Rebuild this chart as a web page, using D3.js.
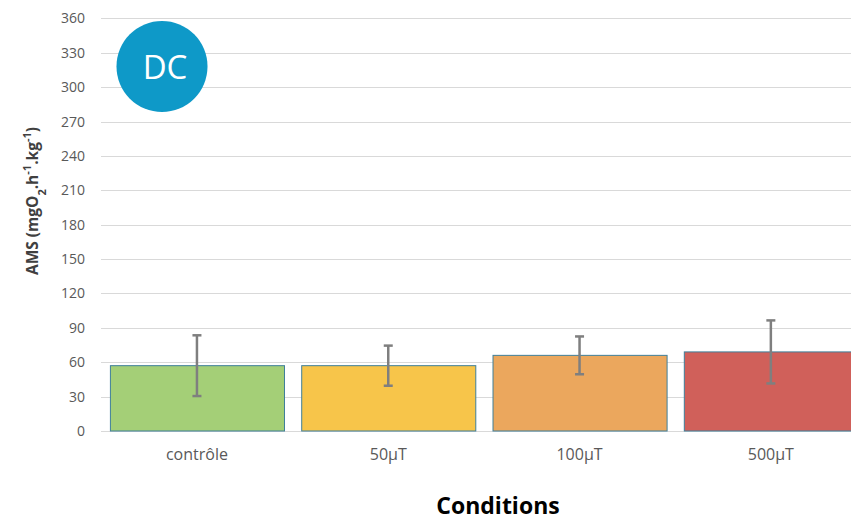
<!DOCTYPE html>
<html>
<head>
<meta charset="utf-8">
<script src="https://cdn.jsdelivr.net/npm/d3@7"></script>
<style>
  html, body { margin: 0; padding: 0; background: #fff; }
  svg { display: block; }
  text { font-family: "Open Sans", "Noto Sans", "Liberation Sans", sans-serif; }
</style>
</head>
<body>
<script>
// AMS per exposure condition
const categories = ["contrôle", "50µT", "100µT", "500µT"];
const amsMean = [57, 57, 66, 69];
const amsError = [26.5, 17.5, 16.5, 27.5];
const barColors = ["#a4cf77", "#f7c54a", "#eba75d", "#d0605a"];
const yTicks = [0, 30, 60, 90, 120, 150, 180, 210, 240, 270, 300, 330, 360];

const width = 851, height = 522;
const svg = d3.select("body").append("svg")
  .attr("width", width).attr("height", height);

// plot area extends a little beyond the right edge of the view
const x = d3.scaleBand()
  .domain(categories)
  .range([101.3, 866.5])
  .paddingInner(0.09)
  .paddingOuter(0.045);

const y = d3.scaleLinear().domain([0, 360]).range([431, 18.4]);

// horizontal gridlines
svg.append("g")
  .selectAll("line")
  .data(yTicks)
  .join("line")
  .attr("x1", 101).attr("x2", width)
  .attr("y1", d => Math.round(y(d)) + 0.5)
  .attr("y2", d => Math.round(y(d)) + 0.5)
  .attr("stroke", "#d9d9d9")
  .attr("stroke-width", 1);

// y axis labels
const yAxis = d3.axisLeft(y).tickValues(yTicks).tickSize(0).tickPadding(0);
const gy = svg.append("g").attr("transform", "translate(85,0)").call(yAxis);
gy.select(".domain").remove();
gy.selectAll("text")
  .attr("fill", "#595959")
  .style("font-size", "14px")
  .style("font-family", "'Open Sans', sans-serif");

// bars
svg.append("g")
  .selectAll("rect")
  .data(categories)
  .join("rect")
  .attr("x", d => x(d) + 0.5)
  .attr("y", (d, i) => y(amsMean[i]))
  .attr("width", x.bandwidth())
  .attr("height", (d, i) => y(0) - y(amsMean[i]))
  .attr("fill", (d, i) => barColors[i])
  .attr("stroke", "#3f7f9a")
  .attr("stroke-width", 1);

// error bars
const eb = svg.append("g").attr("stroke", "#7f7f7f").attr("stroke-width", 2.5);
categories.forEach((c, i) => {
  const cx = x(c) + x.bandwidth() / 2;
  const top = y(amsMean[i] + amsError[i]);
  const bot = y(amsMean[i] - amsError[i]);
  eb.append("line").attr("x1", cx).attr("x2", cx).attr("y1", top).attr("y2", bot);
  eb.append("line").attr("x1", cx - 4.5).attr("x2", cx + 4.5).attr("y1", top).attr("y2", top);
  eb.append("line").attr("x1", cx - 4.5).attr("x2", cx + 4.5).attr("y1", bot).attr("y2", bot);
});

// x axis labels
const xAxis = d3.axisBottom(x).tickSize(0).tickPadding(0);
const gx = svg.append("g").attr("transform", "translate(0,449)").call(xAxis);
gx.select(".domain").remove();
gx.selectAll("text")
  .attr("fill", "#595959")
  .style("font-size", "16px")
  .style("font-family", "'Open Sans', sans-serif");

// axis titles
svg.append("text")
  .attr("x", 498).attr("y", 514)
  .attr("text-anchor", "middle")
  .attr("fill", "#000")
  .style("font-size", "23px")
  .style("font-weight", "bold")
  .text("Conditions");

const yt = svg.append("text")
  .attr("transform", "translate(38,201) rotate(-90)")
  .attr("text-anchor", "middle")
  .attr("fill", "#404040")
  .style("font-size", "15.5px")
  .style("font-weight", "bold");
yt.append("tspan").text("AMS (mgO");
yt.append("tspan").attr("baseline-shift", "sub").style("font-size", "11px").text("2");
yt.append("tspan").text(".h");
yt.append("tspan").attr("baseline-shift", "super").style("font-size", "11px").text("-1");
yt.append("tspan").text(".kg");
yt.append("tspan").attr("baseline-shift", "super").style("font-size", "11px").text("-1");
yt.append("tspan").text(")");

// DC badge
svg.append("circle")
  .attr("cx", 162).attr("cy", 66.5).attr("r", 45.5)
  .attr("fill", "#0e99c8");
svg.append("text")
  .attr("x", 165).attr("y", 79)
  .attr("text-anchor", "middle")
  .attr("fill", "#fff")
  .style("font-size", "33px")
  .style("font-family", "'Open Sans', sans-serif")
  .text("DC");
</script>
</body>
</html>
